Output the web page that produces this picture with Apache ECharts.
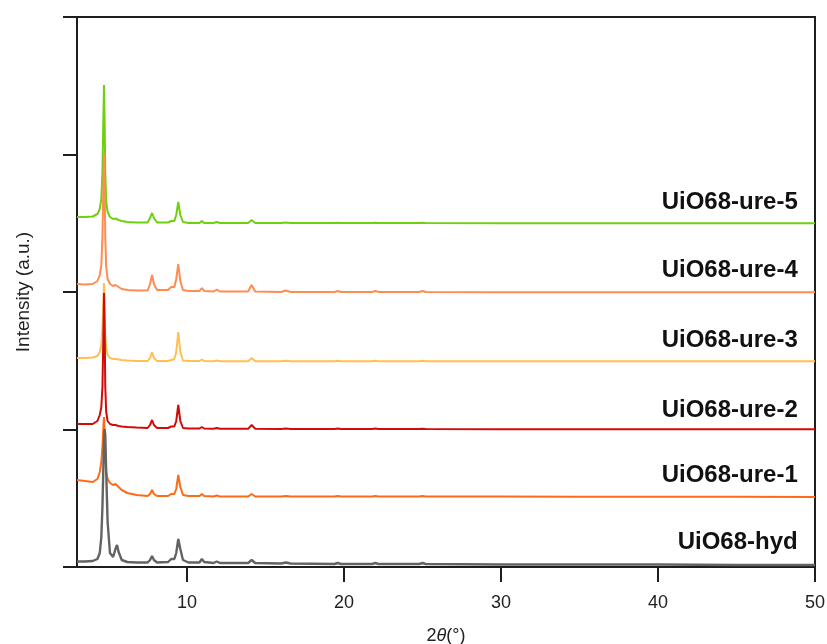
<!DOCTYPE html>
<html>
<head>
<meta charset="utf-8">
<script src="https://cdn.jsdelivr.net/npm/echarts@6/dist/echarts.min.js"></script>
<style>html,body{margin:0;padding:0;background:#fff;}#c{width:827px;height:644px;}</style>
</head>
<body>
<div id="c"></div>
<script>
// 2θ sample positions (degrees)
const twoTheta = [3.0, 3.5, 4.0, 4.3, 4.45, 4.55, 4.62, 4.68, 4.72, 4.76,
  4.8, 4.86, 4.95, 5.1, 5.3, 5.45, 5.55, 5.65, 5.85, 6.2,
  6.8, 7.5, 7.65, 7.78, 7.9, 8.1, 8.8, 9.0, 9.1, 9.2,
  9.32, 9.45, 9.58, 9.75, 10.1, 10.8, 10.95, 11.1, 11.7, 11.9,
  12.1, 13.9, 14.12, 14.35, 16.0, 16.3, 16.6, 19.4, 19.6, 19.8,
  21.8, 22.0, 22.2, 24.8, 25.0, 25.2, 30, 35, 40, 45, 50];

// Intensities (a.u., stacked offsets included)
const hyd = [5.5, 5.5, 6, 8, 14, 30, 60, 100, 125, 138,
  132, 95, 45, 14, 10, 18, 22, 15, 7, 5,
  4.5, 4.5, 7, 11, 7, 4.5, 5, 8, 10, 8,
  14, 28, 18, 7, 4.5, 4.5, 8, 5, 4, 5.5,
  4, 4, 7, 4, 3.5, 4.5, 3.5, 3, 4, 3,
  3, 4, 3, 3, 4, 3, 2.5, 2.5, 2.5, 2, 2];
const ure1 = [87, 86, 85, 88, 95, 105, 120, 140, 150, 135,
  110, 95, 88, 84, 82, 83, 82, 80, 77, 74,
  72, 71, 73, 77, 73, 71, 71, 73, 74, 73,
  78, 92, 80, 72, 71, 71, 73, 71, 70.5, 71.5,
  70.5, 70.5, 73, 70.5, 70.5, 71, 70.5, 70.5, 71, 70.5,
  70.5, 71, 70.5, 70.5, 71, 70.5, 70.5, 70.3, 70.3, 70.2, 70];
const ure2 = [143, 143, 143, 146, 152, 160, 180, 230, 274, 240,
  180, 155, 146, 143, 142, 142, 141.5, 141, 140.5, 140,
  139.5, 139, 142, 147, 142, 139, 139, 140.5, 141, 140.5,
  146, 162, 146, 139, 138.5, 138.5, 140, 138.5, 138.3, 139,
  138.3, 138.2, 142, 138.2, 138, 138.5, 138, 138, 138.5, 138,
  138, 138.5, 138, 138, 138.3, 138, 137.8, 137.8, 137.7, 137.7, 137.7];
const ure3 = [209, 209, 209.5, 211, 215, 222, 240, 265, 284, 262,
  232, 218, 212, 209, 208, 208, 207.5, 207.5, 207, 206.5,
  206, 206, 209, 215, 209, 206, 206, 207, 209, 208,
  215, 235, 215, 206.5, 206, 206, 207.5, 206, 205.8, 206.5,
  205.8, 205.8, 209, 205.8, 205.8, 206.2, 205.8, 205.8, 206.2, 205.8,
  205.8, 206.2, 205.8, 205.8, 206.2, 205.8, 205.7, 205.7, 205.7, 205.7, 205.7];
const ure4 = [283, 282.5, 283, 286, 292, 302, 330, 380, 414, 385,
  330, 300, 288, 283, 281, 282, 282, 280, 278, 277,
  276.5, 276.5, 283, 292, 283, 277, 277, 280, 282, 280,
  288, 303, 286, 277, 276, 276, 279, 276, 275.5, 277.5,
  275.5, 275.5, 282, 275.5, 275, 276.5, 275, 275, 276, 275,
  275, 276, 275, 275, 276, 275, 274.8, 274.7, 274.7, 274.7, 274.7];
const ure5 = [350, 350, 350.5, 353, 358, 368, 395, 450, 482, 445,
  395, 365, 355, 350, 348, 348.5, 348, 347, 346, 345,
  344.5, 344.5, 349, 354, 349, 344.5, 344.5, 346, 347, 346,
  352, 365, 352, 345, 344, 344, 346, 344, 344, 345,
  344, 344, 347, 344, 344, 344.5, 344, 344, 344.3, 344,
  344, 344.3, 344, 344, 344.3, 344, 343.8, 343.7, 343.7, 343.7, 343.7];

const seriesNames = ['UiO68-ure-5', 'UiO68-ure-3', 'UiO68-ure-4', 'UiO68-ure-2', 'UiO68-ure-1', 'UiO68-hyd'];
const seriesData = [ure5, ure3, ure4, ure2, ure1, hyd];
const seriesColors = ['#6fd00f', '#ffc04f', '#ff8c50', '#d20a0a', '#ff6a14', '#636363'];

// Labels: name and anchor (2θ, intensity) of the label's right/center
const labelNames = ['UiO68-ure-5', 'UiO68-ure-4', 'UiO68-ure-3', 'UiO68-ure-2', 'UiO68-ure-1', 'UiO68-hyd'];
const labelY = [365, 297, 227, 157, 92, 25];
const labelX = 48.9;

const xTicks = [10, 20, 30, 40, 50];

const chart = echarts.init(document.getElementById('c'), null, {renderer: 'canvas'});
const font = "'Liberation Sans', Arial, sans-serif";
const axisColor = '#1e1e1e';

const option = {
  animation: false,
  backgroundColor: '#fff',
  grid: {left: 77, right: 12, top: 17, bottom: 77, show: true, borderColor: axisColor, borderWidth: 2,
    containLabel: false, outerBoundsMode: 'none'},
  xAxis: {
    type: 'value', min: 3, max: 50,
    name: '2{i|θ}(°)', nameLocation: 'middle', nameGap: 60,
    nameTextStyle: {fontFamily: font, fontSize: 18, color: '#222',
      rich: {i: {fontFamily: font, fontSize: 18, fontStyle: 'italic', color: '#222'}}},
    axisLine: {show: true, lineStyle: {color: axisColor, width: 2}},
    axisTick: {show: true, inside: false, length: 15, lineStyle: {color: axisColor, width: 2}, customValues: xTicks},
    axisLabel: {show: true, fontFamily: font, fontSize: 18, color: '#222', margin: 27, customValues: xTicks},
    splitLine: {show: false}
  },
  yAxis: {
    type: 'value', min: 0, max: 550, interval: 137.5,
    name: 'Intensity (a.u.)', nameLocation: 'middle', nameGap: 44,
    nameTextStyle: {fontFamily: font, fontSize: 19, color: '#222'},
    axisLine: {show: true, lineStyle: {color: axisColor, width: 2}},
    axisTick: {show: true, length: 14, lineStyle: {color: axisColor, width: 2}},
    axisLabel: {show: false},
    splitLine: {show: false}
  },
  series: seriesNames.map((n, k) => ({
    name: n, type: 'line', showSymbol: false, symbol: 'none',
    data: twoTheta.map((x, i) => [x, seriesData[k][i]]),
    lineStyle: {color: seriesColors[k], width: n === 'UiO68-hyd' ? 2.4 : 2},
    itemStyle: {color: seriesColors[k]},
    z: 2 + k
  }))
};
chart.setOption(option);

const graphics = labelNames.map((n, i) => {
  const p = chart.convertToPixel({gridIndex: 0}, [labelX, labelY[i]]);
  return {
    type: 'text', x: p[0], y: p[1], z: 100,
    style: {text: n, fontFamily: font, fontSize: 24, fontWeight: 'bold', fill: '#111',
      textAlign: 'right', textVerticalAlign: 'middle'}
  };
});
chart.setOption({graphic: graphics});
</script>
</body>
</html>
